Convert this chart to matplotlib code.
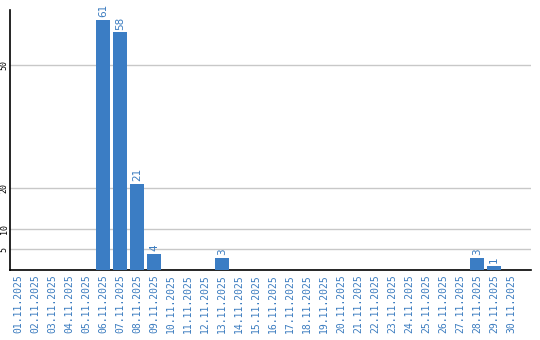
import matplotlib
matplotlib.use('Agg')
import matplotlib.pyplot as plt

# Daily counts, November 2025
dates = ['%02d.11.2025' % d for d in range(1, 31)]
counts = [0, 0, 0, 0, 0, 61, 58, 21, 4, 0,
          0, 0, 3, 0, 0, 0, 0, 0, 0, 0,
          0, 0, 0, 0, 0, 0, 0, 3, 1, 0]
y_ticks = [5, 10, 20, 50]

bar_color = '#3b7dc4'
text_color = '#3a7bbf'

fig = plt.figure(figsize=(5.4, 3.4), dpi=100)
ax = fig.add_axes([10 / 540, 70 / 340, 521 / 540, 260 / 340])

x = list(range(len(dates)))
ax.bar(x, counts, width=0.82, color=bar_color, zorder=3)

for i, v in enumerate(counts):
    if v > 0:
        ax.text(i, v + 0.6, str(v), rotation=90, ha='center', va='bottom',
                color=text_color, fontsize=7.5, family='DejaVu Sans')

ax.set_xlim(-0.47, 30.18)
ax.set_ylim(0, 63.4)

ax.set_yticks(y_ticks)
ax.set_yticklabels([str(t) for t in y_ticks], rotation=90, va='center',
                   fontsize=6, family='DejaVu Sans Mono')
ax.grid(True, axis='y', color='#c8c8c8', linewidth=1, zorder=0)

ax.set_xticks(x)
ax.set_xticklabels(dates, rotation=90, fontsize=7, color=text_color,
                   family='DejaVu Sans Mono')
ax.tick_params(axis='both', length=0, pad=3)
ax.tick_params(axis='y', pad=1)

for side in ['top', 'right']:
    ax.spines[side].set_visible(False)
ax.spines['left'].set_linewidth(1.2)
ax.spines['bottom'].set_linewidth(1.2)

fig.savefig('out.png', dpi=100)
